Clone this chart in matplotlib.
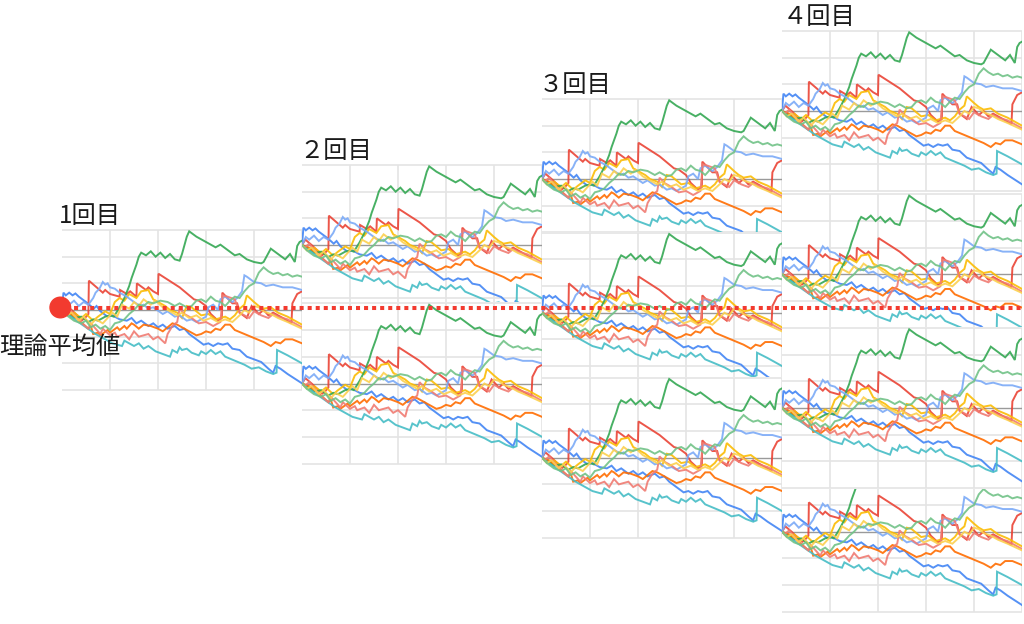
import matplotlib
matplotlib.use('Agg')
import matplotlib.pyplot as plt
from matplotlib.patches import Circle

plt.rcParams['font.family'] = ['Noto Sans CJK JP', 'DejaVu Sans']

# ---------------- data (games, coin difference) ----------------
blue = [(0,0),(30,650),(80,550),(150,650),(220,550),(280,620),(350,500),(500,300),(600,150),(660,50),
        (720,150),(800,-50),(950,-250),(1050,-200),(1200,-350),(1350,-400),(1450,-300),(1550,-500),
        (1650,-400),(1800,-600),(1900,-500),(2000,-650),(2100,-550),(2200,-700),(2350,-600),(2450,-750),
        (2550,-700),(2650,-900),(2800,-1100),(2950,-1300),(3050,-1250),(3150,-1350),(3250,-1250),
        (3350,-1300),(3450,-1250),(3550,-1450),(3700,-1500),(3850,-1750),(4000,-1850),(4150,-1950),
        (4300,-2200),(4400,-2350),(4450,-2100),(4550,-2200),(4700,-2400),(5000,-2750)]
red = [(0,0),(70,200),(200,0),(420,-380),(480,-300),(550,-150),(560,1100),(850,650),(900,750),(1000,600),
       (1200,500),(1210,750),(1350,600),(1420,700),(1550,500),(1560,1000),(1750,750),(1800,850),(1900,700),
       (2000,600),(2010,1360),(2450,850),(2750,400),(2850,350),(3000,150),(3100,-150),(3250,-400),
       (3330,-300),(3340,650),(3550,250),(3650,250),(3700,-100),(3850,-300),(3950,150),(4100,-150),
       (4200,0),(4300,-200),(4400,-100),(4600,-300),(4780,-500),(4800,250),(4900,600),(5000,700)]
yellow = [(0,0),(150,-200),(250,-100),(400,-300),(500,-150),(650,-400),(750,-250),(900,-50),(1000,-150),
          (1100,300),(1200,450),(1300,350),(1400,600),(1550,450),(1650,700),(1800,750),(1900,400),
          (2000,300),(2150,150),(2250,0),(2400,-100),(2500,-300),(2600,150),(2700,100),(2900,-200),
          (3050,-150),(3200,-350),(3400,-250),(3500,-350),(3600,-200),(3700,50),(3800,200),(3850,550),
          (4000,300),(4100,150),(4200,50),(4350,100),(4500,-100),(4700,-250),(4850,-400),(5000,-550)]
green = [(0,0),(100,-100),(250,-300),(400,-250),(550,-450),(650,-350),(750,-400),(900,-250),(1000,-200),
         (1080,-250),(1200,100),(1300,450),(1400,900),(1450,1200),(1550,1700),(1600,2000),(1650,2150),
         (1750,2050),(1850,2200),(1950,2000),(2050,2150),(2150,1950),(2250,2100),(2350,1900),(2450,1850),
         (2500,2100),(2600,2750),(2650,2950),(2800,2750),(3000,2550),(3200,2350),(3300,2450),(3450,2250),
         (3600,2050),(3700,2100),(3850,1900),(4000,1800),(4150,1750),(4200,1800),(4350,2300),(4500,2100),
         (4650,1900),(4750,2100),(4850,1800),(4900,2400),(4950,2550),(5000,2600)]
orange = [(0,0),(150,-100),(300,-300),(550,-700),(600,-600),(650,-900),(750,-850),(800,-950),(950,-750),
          (1000,-850),(1150,-650),(1200,-750),(1300,-600),(1350,-700),(1450,-500),(1500,-550),(1600,-700),
          (1700,-550),(1850,-600),(2000,-700),(2100,-800),(2200,-650),(2300,-500),(2400,-550),(2500,-650),
          (2650,-800),(2800,-950),(2900,-900),(3000,-800),(3100,-850),(3200,-700),(3300,-750),(3400,-550),
          (3500,-550),(3600,-750),(3800,-900),(4000,-1050),(4200,-1200),(4350,-1350),(4450,-1200),
          (4550,-1250),(4650,-1100),(4800,-1100),(5000,-1250)]
cyan = [(0,0),(100,-150),(300,-400),(500,-650),(700,-900),(900,-1100),(1050,-1250),(1250,-1350),
        (1300,-1150),(1500,-1350),(1600,-1250),(1700,-1450),(1800,-1350),(1950,-1550),(2100,-1650),
        (2250,-1750),(2300,-1500),(2400,-1600),(2450,-1400),(2500,-1500),(2600,-1450),(2700,-1600),
        (2850,-1700),(2900,-1550),(3000,-1650),(3100,-1500),(3200,-1650),(3300,-1550),(3400,-1750),
        (3600,-1900),(3800,-2050),(3950,-2200),(4100,-2150),(4250,-2300),(4400,-2400),(4470,-2350),
        (4480,-1500),(4700,-1700),(5000,-2000)]
light_blue = [(0,0),(80,300),(150,200),(250,350),(350,150),(450,300),(550,200),(650,450),(700,650),
              (780,800),(850,1050),(900,950),(950,1000),(1000,850),(1100,800),(1200,650),(1350,500),
              (1500,300),(1630,150),(1700,200),(1800,50),(1900,100),(2100,-150),(2200,-50),(2350,-250),
              (2450,-200),(2600,-400),(2700,-350),(2800,-450),(2900,-350),(3000,-250),(3050,100),
              (3150,200),(3250,0),(3300,400),(3400,500),(3550,300),(3650,450),(3750,700),(3800,1300),
              (3850,1250),(4000,1050),(4150,1000),(4250,900),(4400,950),(4600,850),(4800,850),(5000,750)]
salmon = [(0,0),(50,-100),(150,50),(350,-400),(550,-700),(600,-500),(800,-900),(850,-700),(1000,-950),
          (1100,-850),(1150,-1000),(1300,-900),(1400,-1100),(1500,-800),(1600,-1000),(1800,-900),
          (1900,-1100),(2000,-1000),(2150,-1250),(2200,-900),(2300,-600),(2400,-450),(2450,50),
          (2550,-150),(2700,-300),(2850,-500),(3000,-450),(3150,-600),(3300,-450),(3350,550),(3450,500),
          (3600,400),(3700,-100),(3900,-300),(4000,-50),(4150,-200),(4300,-300),(4400,-150),(4500,-250),
          (4700,-350),(4850,-500),(5000,-650)]
light_yellow = [(0,0),(100,-200),(200,-100),(350,-400),(450,-250),(600,-550),(700,-350),(850,-500),
                (950,-300),(1050,-100),(1150,-250),(1250,200),(1400,50),(1500,300),(1600,150),(1700,400),
                (1850,200),(1950,350),(2100,100),(2250,-50),(2400,-200),(2500,-100),(2650,-300),
                (2800,-200),(2950,-400),(3100,-300),(3250,-450),(3400,-350),(3550,-450),(3700,-200),
                (3800,0),(3900,-100),(4000,150),(4100,100),(4200,-50),(4350,-150),(4500,-300),(4700,-450),
                (5000,-700)]
light_green = [(0,0),(100,-200),(250,-400),(400,-500),(500,-400),(600,-650),(700,-550),(800,-700),
               (900,-600),(1000,-750),(1100,-500),(1200,-450),(1300,-350),(1400,-150),(1500,0),(1600,200),
               (1700,150),(1800,300),(1900,250),(2050,350),(2200,300),(2350,150),(2450,250),(2600,100),
               (2700,150),(2800,350),(2900,400),(3000,300),(3100,500),(3200,350),(3300,300),(3400,150),
               (3500,350),(3600,500),(3700,450),(3800,700),(3900,900),(4000,1000),(4100,1400),(4200,1600),
               (4300,1450),(4400,1350),(4500,1400),(4600,1300),(4700,1350),(4800,1250),(4900,1300),
               (5000,1250)]

series = [blue, red, yellow, green, orange, cyan, light_blue, salmon, light_yellow, light_green]
colors = ['#4285F4', '#EA4335', '#FBBC04', '#34A853', '#FF6D01', '#46BDC6',
          '#7BAAF7', '#F07B72', '#FCD04F', '#71C287']

titles = ['1回目', '２回目', '３回目', '４回目']
mean_label = '理論平均値'

# ---------------- layout ----------------
W, H = 1024, 624
UNIT = 26.67  # px per 1000 coins
fig = plt.figure(figsize=(W / 100, H / 100), dpi=100)

# (left px, zero-line px, visible top px, visible bottom px)
copies = [
    (62, 310.0, 229, 391),
    (302, 245.0, 164, 326), (302, 383.5, 302.5, 464.5),
    (542, 179.0, 98, 260), (542, 312.7, 231.7, 393.7), (542, 457.7, 376.7, 538.7),
    (782, 111.0, 30, 192), (782, 274.3, 193.3, 355.3), (782, 408.0, 327, 489),
    (782, 531.7, 489, 612.7),
]

grid_c = '#e4e4e4'
for (L, Z, VT, VB) in copies:
    ax = fig.add_axes([L / W, 1 - VB / H, 240 / W, (VB - VT) / H])
    ax.set_xlim(0, 5000)
    ax.set_ylim(-(VB - Z) / UNIT * 1000, (Z - VT) / UNIT * 1000)
    ax.set_facecolor('white')
    for sp in ax.spines.values():
        sp.set_visible(False)
    ax.set_xticks([])
    ax.set_yticks([])
    ax.hlines([-3000, -2000, -1000, 1000, 2000, 3000], 0, 5000, color=grid_c, lw=1.2, zorder=1)
    ax.vlines([1000, 2000, 3000, 4000, 5000], -3000, 3000, color=grid_c, lw=1.2, zorder=1)
    ax.axhline(0, color='#9a9a9a', lw=1.0, zorder=1.5)
    for s, c in zip(series, colors):
        xs = [p[0] for p in s]
        ys = [p[1] for p in s]
        ax.plot(xs, ys, color=c, lw=1.4, alpha=0.9, zorder=2, solid_joinstyle='miter')

# overlay in pixel coordinates
ov = fig.add_axes([0, 0, 1, 1])
ov.set_xlim(0, W)
ov.set_ylim(H, 0)
ov.axis('off')
ov.patch.set_alpha(0)

red_c = '#F23A2F'
ov.plot([66, W], [307.5, 307.5], color=red_c, lw=2.9, linestyle=(0, (1, 1)),
        dash_capstyle='butt', solid_capstyle='butt')
ov.add_patch(Circle((60.3, 307.5), 10.3, color=red_c, zorder=5))

txt_c = '#1a1a1a'
title_pos = [(59, 216), (299, 151.5), (539, 85), (783, 17)]
for t, (x, y) in zip(titles, title_pos):
    ov.text(x, y, t, fontsize=17.5, color=txt_c, ha='left', va='center')
ov.text(-1, 347, mean_label, fontsize=17.5, color=txt_c, ha='left', va='center')

fig.savefig('out.png', dpi=100, facecolor='white')
